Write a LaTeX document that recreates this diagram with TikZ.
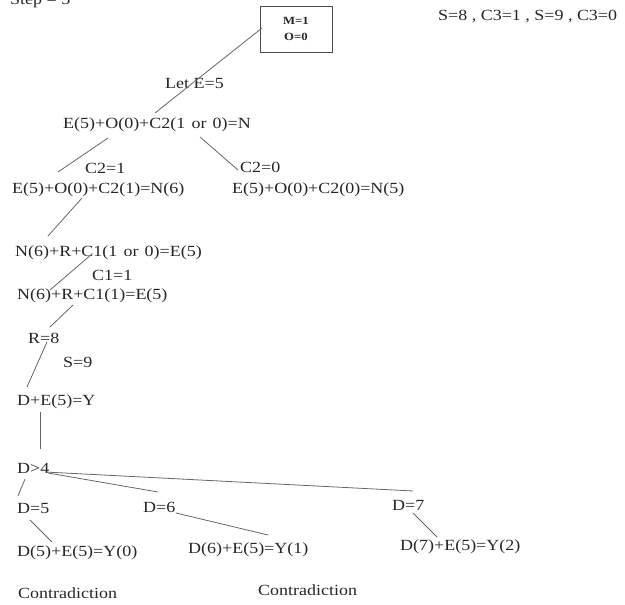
\documentclass[tikz,border=0pt]{standalone}
\usepackage{fontspec}
\setmainfont{Liberation Serif}[FakeStretch=1.16]
\newcommand{\wsp}{\hspace{0.4em}}
\begin{document}
\begin{tikzpicture}[x=1pt,y=-1pt,
  lbl/.style={anchor=west,inner sep=0pt,text=black!85,font=\fontsize{15.5}{19}\selectfont},
  conn/.style={draw=black!60,line width=0.8pt}]
\useasboundingbox (0,0) rectangle (625,605);
% texts
\node[lbl] (step) at (10,1) {Step = 5};
\node[draw=black!70,line width=0.8pt,minimum width=72pt,minimum height=46pt,align=center,inner sep=0pt,
      text=black!85,font=\bfseries\fontsize{11}{16}\selectfont] (box) at (296,29) {M=1\\O=0};
\node[lbl] (cons) at (438,17) {S=8 , C3=1 , S=9 , C3=0};
\node[lbl] (lete) at (165,84) {Let E=5};
\node[lbl] (eq1) at (63,125) {E(5)+O(0)+C2(1\wsp or\wsp 0)=N};
\node[lbl] (c21) at (85,168) {C2=1};
\node[lbl] (c20) at (240,167) {C2=0};
\node[lbl] (eq2) at (12,190) {E(5)+O(0)+C2(1)=N(6)};
\node[lbl] (eq3) at (232,190) {E(5)+O(0)+C2(0)=N(5)};
\node[lbl] (eq4) at (15,253) {N(6)+R+C1(1\wsp or\wsp 0)=E(5)};
\node[lbl] (c11) at (92,275) {C1=1};
\node[lbl] (eq5) at (17,296) {N(6)+R+C1(1)=E(5)};
\node[lbl] (r8) at (28,338) {R=8};
\node[lbl] (s9) at (63,362) {S=9};
\node[lbl] (eq6) at (17,402) {D+E(5)=Y};
\node[lbl] (d4) at (17,468) {D>4};
\node[lbl] (d5) at (17,508) {D=5};
\node[lbl] (d6) at (143,507) {D=6};
\node[lbl] (d7) at (392,505) {D=7};
\node[lbl] (y0) at (17,553) {D(5)+E(5)=Y(0)};
\node[lbl] (y1) at (188,550) {D(6)+E(5)=Y(1)};
\node[lbl] (y2) at (400,547) {D(7)+E(5)=Y(2)};
\node[lbl] (con1) at (18,593) {Contradiction};
\node[lbl] (con2) at (258,590) {Contradiction};
% connector end points
\coordinate (a1) at (262,28);  \coordinate (a2) at (155,113);
\coordinate (b1) at (108,138); \coordinate (b2) at (58,172);
\coordinate (c1) at (200,137); \coordinate (c2) at (238,170);
\coordinate (d1) at (82,198);  \coordinate (d2) at (48,236);
\coordinate (e1) at (92,254);  \coordinate (e2) at (50,290);
\coordinate (f1) at (73,305);  \coordinate (f2) at (50,327);
\coordinate (g1) at (47,342);  \coordinate (g2) at (27,387);
\coordinate (h1) at (40,412);  \coordinate (h2) at (40,449);
\coordinate (i1) at (45,472);  \coordinate (i2) at (413,491);
\coordinate (j1) at (48,473);  \coordinate (j2) at (158,492);
\coordinate (k1) at (25,479);  \coordinate (k2) at (18,496);
\coordinate (m1) at (30,520);  \coordinate (m2) at (52,542);
\coordinate (n1) at (176,513); \coordinate (n2) at (268,535);
\coordinate (p1) at (413,513); \coordinate (p2) at (437,537);
\draw[conn] (a1) -- (a2);
\draw[conn] (b1) -- (b2);
\draw[conn] (c1) -- (c2);
\draw[conn] (d1) -- (d2);
\draw[conn] (e1) -- (e2);
\draw[conn] (f1) -- (f2);
\draw[conn] (g1) -- (g2);
\draw[conn] (h1) -- (h2);
\draw[conn] (i1) -- (i2);
\draw[conn] (j1) -- (j2);
\draw[conn] (k1) -- (k2);
\draw[conn] (m1) -- (m2);
\draw[conn] (n1) -- (n2);
\draw[conn] (p1) -- (p2);
\end{tikzpicture}
\end{document}
